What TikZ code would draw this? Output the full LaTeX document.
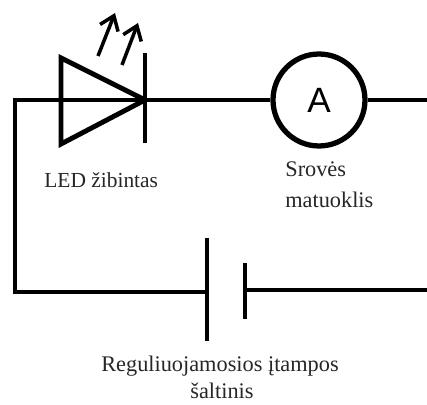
\documentclass[tikz,border=0pt]{standalone}
\usepackage{fontspec}
\setmainfont{Liberation Serif}
\newfontfamily\metersans{Liberation Sans}
\usetikzlibrary{arrows.meta}
\tikzset{
	wire/.style={black, line width=2.8pt},
	plate/.style={black, line width=2.8pt},
	ray/.style={black, line width=2pt, -{Straight Barb[length=7.5pt,width=11pt,line width=2pt]}},
	caption/.style={anchor=base west, inner sep=0pt, font=\fontsize{12.7}{15}\selectfont, text=black!85},
}
\begin{document}
\begin{tikzpicture}[x=0.02cm,y=-0.02cm]
	\useasboundingbox (0,0) rectangle (427,405);
	% corners and ends of the wires
	\coordinate (corner top) at (15,100);
	\coordinate (corner bottom) at (15,292);
	\coordinate (right top) at (427,100);
	\coordinate (right bottom) at (427,290);
	% LED
	\coordinate (led a) at (61,58);
	\coordinate (led b) at (61,144);
	\coordinate (led tip) at (145,100);
	\coordinate (bar top) at (145,53);
	\coordinate (bar bottom) at (145,143);
	\coordinate (ray one start) at (98,56);
	\coordinate (ray one end) at (115,13);
	\coordinate (ray two start) at (122,65);
	\coordinate (ray two end) at (138,23);
	% meter
	\node[draw, circle, line width=3pt, minimum size=1.84cm, inner sep=0pt, font=\metersans\fontsize{20}{22}\selectfont] (meter) at (319,100) {A};
	% source
	\coordinate (long top) at (207,238);
	\coordinate (long mid) at (207,292);
	\coordinate (long bottom) at (207,341);
	\coordinate (short top) at (245,263);
	\coordinate (short mid) at (245,290);
	\coordinate (short bottom) at (245,319);
	% wires
	\draw[wire, line join=miter] (meter.west) -- (corner top) -- (corner bottom) -- (long mid);
	\draw[wire] (meter.east) -- (right top);
	\draw[wire] (short mid) -- (right bottom);
	\draw[plate] (long top) -- (long bottom);
	\draw[plate] (short top) -- (short bottom);
	\draw[black, line width=2.8pt, line join=miter] (led a) -- (led tip) -- (led b) -- cycle;
	\draw[black, line width=1.8pt] (bar top) -- (bar bottom);
	\draw[ray] (ray one start) -- (ray one end);
	\draw[ray] (ray two start) -- (ray two end);
	% labels
	\node[caption, font=\fontsize{12.2}{15}\selectfont] (led label) at (44,188) {LED žibintas};
	\node[caption] (meter label one) at (285,177) {Srovės};
	\node[caption] (meter label two) at (285,208) {matuoklis};
	\node[caption, anchor=base] (source label one) at (220,372) {Reguliuojamosios įtampos};
	\node[caption, anchor=base] (source label two) at (222,399) {šaltinis};
\end{tikzpicture}
\end{document}
